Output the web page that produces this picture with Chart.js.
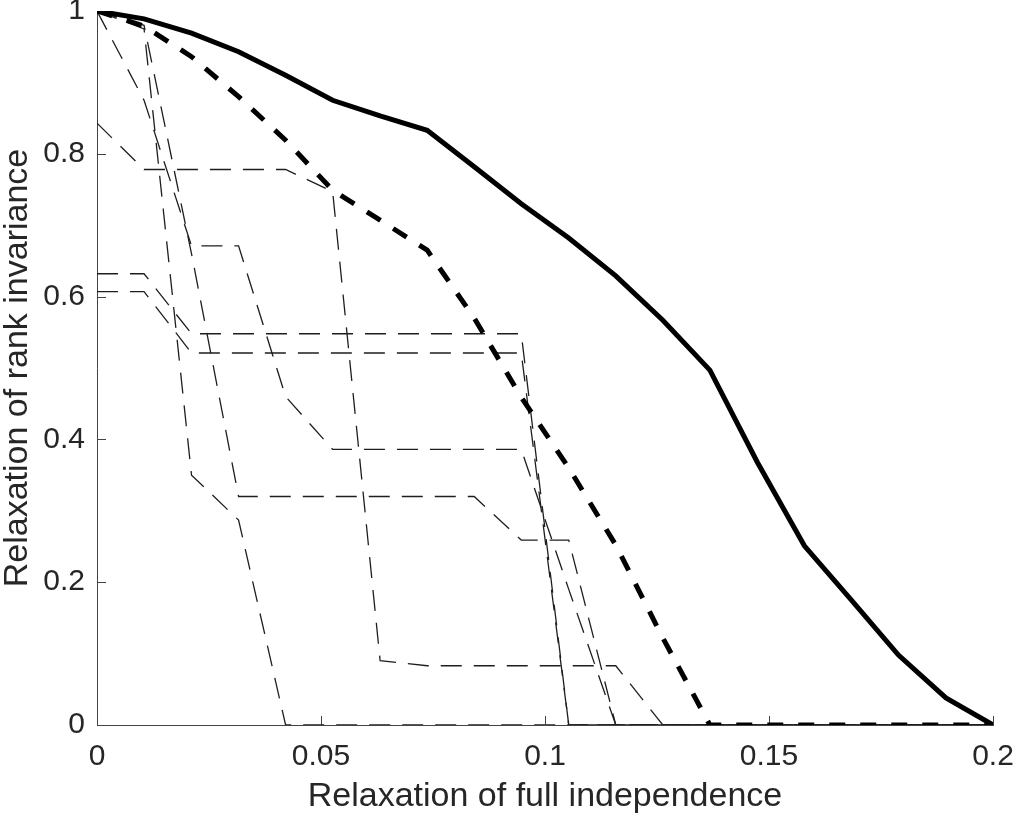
<!DOCTYPE html>
<html>
<head>
<meta charset="utf-8">
<script src="https://cdn.jsdelivr.net/npm/chart.js@4"></script>
<style>
  html, body { margin: 0; padding: 0; background: #fff; }
</style>
</head>
<body>
<canvas id="relaxChart" width="1021" height="819"></canvas>
<script>
  // x grid (relaxation of full independence)
  const xValues = [0, 0.0105, 0.0211, 0.0316, 0.0421, 0.0526, 0.0632, 0.0737, 0.0842, 0.0947,
                   0.1053, 0.1158, 0.1263, 0.1368, 0.1474, 0.1579, 0.1684, 0.1789, 0.1895, 0.2];

  // thick curves
  const solidCurve  = [1.0, 0.989, 0.969, 0.943, 0.910, 0.875, 0.853, 0.833, 0.782, 0.730,
                       0.682, 0.629, 0.567, 0.497, 0.368, 0.251, 0.175, 0.098, 0.038, 0];
  const dashedCurve = [1.0, 0.979, 0.936, 0.880, 0.819, 0.749, 0.707, 0.665, 0.570, 0.459,
                       0.360, 0.252, 0.122, 0, 0, 0, 0, 0, 0, 0];

  // thin dashed curves
  const thin1 = [0.632, 0.632, 0.548, 0.548, 0.548, 0.548, 0.548, 0.548, 0.548, 0.548,
                 0, 0, 0, 0, 0, 0, 0, 0, 0, 0];
  const thin2 = [0.607, 0.607, 0.521, 0.521, 0.521, 0.521, 0.521, 0.521, 0.521, 0.521,
                 0, 0, 0, 0, 0, 0, 0, 0, 0, 0];
  const thin3 = [0.843, 0.778, 0.778, 0.778, 0.778, 0.747, 0.090, 0.083, 0.083, 0.083,
                 0.083, 0.083, 0, 0, 0, 0, 0, 0, 0, 0];
  const thin4 = [1.0, 0.875, 0.671, 0.671, 0.460, 0.386, 0.386, 0.386, 0.386, 0.386,
                 0.190, 0, 0, 0, 0, 0, 0, 0, 0, 0];
  const thin5 = [1.0, 0.975, 0.350, 0.287, 0, 0, 0, 0, 0, 0,
                 0, 0, 0, 0, 0, 0, 0, 0, 0, 0];
  const thin6 = [1.0, 0.980, 0.660, 0.320, 0.320, 0.320, 0.320, 0.320, 0.320, 0.259,
                 0.259, 0, 0, 0, 0, 0, 0, 0, 0, 0];

  const xTickStep = 0.05;
  const yTickStep = 0.2;

  function toPoints(ys) {
    return ys.map((y, i) => ({ x: xValues[i], y: y }));
  }

  function thinSet(label, ys) {
    return {
      label: label,
      data: toPoints(ys),
      borderColor: '#1e1e1e',
      borderWidth: 1.3,
      borderDash: [21, 12],
      pointRadius: 0,
      tension: 0,
      fill: false
    };
  }

  // short tick labels: 0, 0.05, 0.1 ...
  function tickText(value) {
    return String(Math.round(value * 100) / 100);
  }

  // inward tick marks like the original axes
  const innerTicks = {
    id: 'innerTicks',
    beforeDatasetsDraw(chart) {
      const { ctx, chartArea, scales } = chart;
      ctx.save();
      ctx.strokeStyle = '#444';
      ctx.lineWidth = 1;
      scales.x.ticks.forEach(t => {
        const px = Math.round(scales.x.getPixelForValue(t.value)) + 0.5;
        ctx.beginPath();
        ctx.moveTo(px, chartArea.bottom);
        ctx.lineTo(px, chartArea.bottom - 9);
        ctx.stroke();
      });
      scales.y.ticks.forEach(t => {
        const py = Math.round(scales.y.getPixelForValue(t.value)) + 0.5;
        ctx.beginPath();
        ctx.moveTo(chartArea.left, py);
        ctx.lineTo(chartArea.left + 9, py);
        ctx.stroke();
      });
      ctx.restore();
    }
  };

  const ctx = document.getElementById('relaxChart').getContext('2d');
  const relaxChart = new Chart(ctx, {
    type: 'line',
    data: {
      datasets: [
        {
          label: 'solid',
          data: toPoints(solidCurve),
          borderColor: '#000',
          borderWidth: 5,
          pointRadius: 0,
          tension: 0,
          fill: false
        },
        {
          label: 'dashed',
          data: toPoints(dashedCurve),
          borderColor: '#000',
          borderWidth: 5,
          borderDash: [16, 15],
          pointRadius: 0,
          tension: 0,
          fill: false
        },
        thinSet('t1', thin1),
        thinSet('t2', thin2),
        thinSet('t3', thin3),
        thinSet('t4', thin4),
        thinSet('t5', thin5),
        thinSet('t6', thin6)
      ]
    },
    options: {
      responsive: false,
      animation: false,
      layout: { padding: { top: 11, right: 28, bottom: 0, left: 0 } },
      plugins: {
        legend: { display: false },
        tooltip: { enabled: false }
      },
      scales: {
        x: {
          type: 'linear',
          min: 0,
          max: 0.2,
          grid: { display: false, drawTicks: false },
          border: { display: true, color: '#444', width: 1 },
          ticks: {
            stepSize: xTickStep,
            padding: 14,
            color: '#262626',
            font: { family: 'Liberation Sans', size: 30 },
            callback: tickText
          },
          title: {
            display: true,
            text: 'Relaxation of full independence',
            color: '#262626',
            font: { family: 'Liberation Sans', size: 34, lineHeight: 1 },
            padding: { top: 0, bottom: 5 }
          },
          afterFit(scale) {
            scale.height = 94;
            scale.paddingLeft = 0;
            scale.paddingRight = 0;
          }
        },
        y: {
          min: 0,
          max: 1,
          grid: { display: false, drawTicks: false },
          border: { display: true, color: '#444', width: 1 },
          ticks: {
            stepSize: yTickStep,
            padding: 12,
            color: '#262626',
            font: { family: 'Liberation Sans', size: 30 },
            callback: tickText
          },
          title: {
            display: true,
            text: 'Relaxation of rank invariance',
            color: '#262626',
            font: { family: 'Liberation Sans', size: 34, lineHeight: 1 },
            padding: { top: 1, bottom: 0 }
          },
          afterFit(scale) {
            scale.width = 97;
            scale.paddingTop = 0;
            scale.paddingBottom = 0;
          }
        }
      }
    },
    plugins: [innerTicks]
  });
</script>
</body>
</html>
